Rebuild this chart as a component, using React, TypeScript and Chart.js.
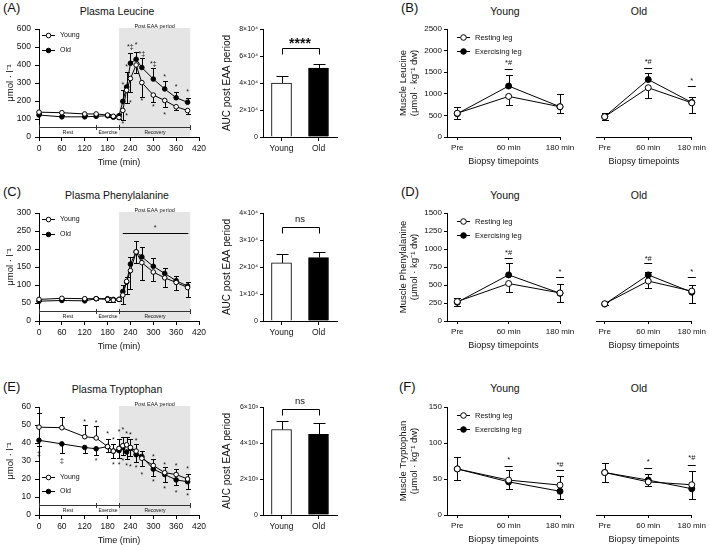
import React, { useEffect, useRef } from 'react';
import { Chart, registerables } from 'chart.js';

Chart.register(...registerables);

const FONT = '"Liberation Sans", Arial, Helvetica, sans-serif';
const INK = '#111111';
Chart.defaults.font.family = FONT;
Chart.defaults.color = INK;

// ---------------- Plasma time course (A, C, E) ----------------
const plasmaTimes = [0, 60, 120, 150, 180, 195, 210, 220, 230, 240, 255, 270, 300, 330, 360, 390];
const phaseBounds = [0, 150, 210, 397];
const phaseLabels = ['Rest', 'Exercise', 'Recovery'];

const leuYoung = [138, 135, 128, 128, 122, 115, 108, 148, 260, 325, 400, 302, 233, 203, 168, 147];
const leuYoungSD = [10, 10, 10, 8, 10, 12, 10, 53, 70, 75, 45, 82, 38, 38, 20, 18];
const leuOld = [122, 112, 112, 115, 118, 110, 118, 198, 278, 410, 432, 386, 322, 267, 218, 193];
const leuOldSD = [10, 10, 8, 8, 10, 10, 10, 64, 85, 58, 42, 55, 63, 44, 30, 25];
const leuMarks: [number, number, string][] = [
  [220, 293, '*'], [230, 398, '*'], [240, 505, '*‡'], [255, 515, '*'], [270, 465, '*‡'],
  [300, 413, '*‡'], [330, 339, '*'], [360, 283, '*'], [390, 255, '*'],
  [220, 80, '*'], [230, 122, '*'], [240, 196, '*'], [270, 205, '*'], [300, 172, '*'], [330, 130, '*'],
];

const pheYoung = [60, 63, 62, 62, 60, 58, 60, 72, 110, 140, 192, 162, 136, 120, 107, 93];
const pheYoungSD = [4, 4, 4, 5, 6, 6, 5, 25, 35, 50, 30, 49, 25, 25, 20, 25];
const pheOld = [55, 57, 56, 62, 62, 60, 60, 82, 108, 158, 192, 178, 152, 132, 112, 97];
const pheOldSD = [4, 4, 4, 5, 5, 5, 5, 18, 15, 20, 31, 27, 23, 15, 12, 10];
const pheSigLine: [number, number, number] = [220, 392, 244];
const pheMarks: [number, number, string][] = [[305, 262, '*']];

const trpYoung = [48.8, 48.5, 43.5, 42.8, 38, 35.5, 37, 38.5, 39, 37.5, 35.5, 31.5, 27.5, 23.5, 22.5, 20];
const trpYoungSD = [8, 6, 6.5, 6.5, 4.5, 4, 5, 5, 4.5, 4.5, 4, 4, 3.5, 3, 3, 3];
const trpOld = [41.5, 39.5, 37.5, 36.8, 38, 35.5, 35.8, 37.5, 35, 37, 33.5, 32.5, 25.5, 22.5, 19.5, 18.5];
const trpOldSD = [3, 5, 3, 3.5, 3, 4, 4, 4, 4, 4, 4, 5.5, 4, 4, 3, 4];
const trpMarks: [number, number, string][] = [
  [120, 52.6, '*'], [150, 51.7, '*'], [180, 45.6, '*'], [195, 42.5, '*'], [210, 47, '*'], [220, 48, '*'],
  [230, 45.8, '*'], [240, 45, '*'], [255, 41.8, '*'], [300, 33, '*'], [330, 28.5, '*'], [360, 28, '*'], [390, 26, '*'],
  [0, 34.5, '‡'], [60, 30.5, '‡'], [150, 30.5, '*'], [195, 28.2, '*'], [210, 28.2, '*'], [220, 30.5, '*'],
  [230, 27.7, '*'], [240, 27.1, '*'], [255, 26.8, '*'], [270, 23, '*'], [300, 19, '*'], [330, 15, '*'],
  [360, 13, '*'], [390, 11, '*'],
];

// ---------------- AUC bars ----------------
const barLabels = ['Young', 'Old'];
const aucLeu = [40000, 51000];
const aucLeuSD = [5500, 3000];
const aucPhe = [21500, 23500];
const aucPheSD = [3500, 2000];
const aucTrp = [4750, 4480];
const aucTrpSD = [450, 620];

// ---------------- Muscle (B, D, F) ----------------
const biopsyLabels = ['Pre', '60 min', '180 min'];

const mLeuYoungRest = [550, 940, 700];
const mLeuYoungRestUp = [0, 0, 0];
const mLeuYoungRestDn = [130, 200, 150];
const mLeuYoungEx = [540, 1180, 700];
const mLeuYoungExUp = [150, 260, 300];
const mLeuYoungExDn = [0, 0, 0];
const mLeuOldRest = [470, 1140, 790];
const mLeuOldRestUp = [0, 0, 0];
const mLeuOldRestDn = [80, 240, 230];
const mLeuOldEx = [470, 1330, 800];
const mLeuOldExUp = [80, 150, 130];
const mLeuOldExDn = [0, 0, 0];
const mLeuYoungSig: [number, number, number, string][] = [[1, 1746, 1577, '*#']];
const mLeuOldSig: [number, number, number, string][] = [[1, 1762, 1592, '*#'], [2, 1323, 1185, '*']];

const mPheYoungRest = [270, 520, 390];
const mPheYoungRestUp = [0, 0, 0];
const mPheYoungRestDn = [55, 120, 130];
const mPheYoungEx = [260, 640, 385];
const mPheYoungExUp = [60, 160, 135];
const mPheYoungExDn = [0, 0, 0];
const mPheOldRest = [240, 555, 415];
const mPheOldRestUp = [0, 0, 0];
const mPheOldRestDn = [20, 90, 165];
const mPheOldEx = [235, 640, 400];
const mPheOldExUp = [25, 40, 100];
const mPheOldExDn = [0, 0, 0];
const mPheYoungSig: [number, number, number, string][] = [[1, 967, 877, '*#'], [2, 706, 616, '*']];
const mPheOldSig: [number, number, number, string][] = [[1, 886, 810, '*#'], [2, 697, 607, '*']];

const mTrpYoungRest = [64, 48.5, 41.5];
const mTrpYoungRestUp = [16, 13.5, 13];
const mTrpYoungRestDn = [0, 0, 0];
const mTrpYoungEx = [64, 46, 33];
const mTrpYoungExUp = [0, 0, 0];
const mTrpYoungExDn = [15, 10, 11];
const mTrpOldRest = [59, 46, 42];
const mTrpOldRestUp = [13, 0, 19];
const mTrpOldRestDn = [0, 6, 0];
const mTrpOldEx = [59, 48.5, 36.5];
const mTrpOldExUp = [0, 8.5, 0];
const mTrpOldExDn = [13, 0, 14];
const mTrpYoungSig: [number, number, number, string][] = [[1, 77.7, 68.7, '*'], [2, 71.8, 62, '*#']];
const mTrpOldSig: [number, number, number, string][] = [[1, 75.5, 65.5, '*'], [2, 81, 70, '*#']];

// ---------------- helpers ----------------
type Rect = { x: number; y: number; w: number; h: number };
type Area = { l: number; r: number; t: number; b: number };
type Ann =
  | { kind: 'text'; x: number; y: number; text: string; size: number; bold?: boolean }
  | { kind: 'tick'; x: number; y: number; half: number }
  | { kind: 'line'; x1: number; x2: number; y: number }
  | { kind: 'bracket'; x1: number; x2: number; y: number; drop: number };
type ErrSet = { index: number; up: number[]; dn: number[] };

function frame(cv: Rect, ar: Area, hasY = true) {
  return {
    padding: { left: hasY ? 0 : ar.l - cv.x, right: cv.x + cv.w - ar.r, top: ar.t - cv.y, bottom: 0 },
    yW: ar.l - cv.x,
    xH: cv.y + cv.h - ar.b,
  };
}

function errPlugin(sets: ErrSet[], cap: number, after = false) {
  const draw = (chart: any) => {
    const ctx = chart.ctx;
    const ys = chart.scales.y;
    ctx.save();
    ctx.strokeStyle = '#000';
    ctx.lineWidth = 1;
    for (const s of sets) {
      const meta = chart.getDatasetMeta(s.index);
      const raw = chart.data.datasets[s.index].data;
      meta.data.forEach((el: any, i: number) => {
        const d = raw[i];
        const v = typeof d === 'number' ? d : d.y;
        const x = Math.round(el.x) + 0.5;
        const y0 = ys.getPixelForValue(v);
        const ends: number[] = [];
        if (s.up[i] > 0) ends.push(ys.getPixelForValue(v + s.up[i]));
        if (s.dn[i] > 0) ends.push(ys.getPixelForValue(v - s.dn[i]));
        for (const ye of ends) {
          const yy = Math.round(ye) + 0.5;
          ctx.beginPath();
          ctx.moveTo(x, y0);
          ctx.lineTo(x, yy);
          ctx.moveTo(x - cap, yy);
          ctx.lineTo(x + cap, yy);
          ctx.stroke();
        }
      });
    }
    ctx.restore();
  };
  return after ? { id: 'errA', afterDatasetsDraw: draw } : { id: 'errB', beforeDatasetsDraw: draw };
}

function annPlugin(anns: Ann[]) {
  return {
    id: 'ann',
    afterDatasetsDraw(chart: any) {
      const { ctx, scales } = chart;
      const px = (v: number) => scales.x.getPixelForValue(v);
      const py = (v: number) => scales.y.getPixelForValue(v);
      ctx.save();
      ctx.strokeStyle = '#000';
      ctx.lineWidth = 1;
      ctx.fillStyle = INK;
      for (const a of anns) {
        if (a.kind === 'text') {
          ctx.font = `${a.bold ? 'bold ' : ''}${a.size}px ${FONT}`;
          ctx.textAlign = 'center';
          ctx.textBaseline = 'middle';
          const off = /^[*#‡]+$/.test(a.text) ? a.size * 0.18 : 0;
          ctx.fillText(a.text, px(a.x), py(a.y) + off);
        } else if (a.kind === 'tick') {
          const y = Math.round(py(a.y)) + 0.5;
          ctx.beginPath();
          ctx.moveTo(px(a.x) - a.half, y);
          ctx.lineTo(px(a.x) + a.half, y);
          ctx.stroke();
        } else if (a.kind === 'line') {
          const y = Math.round(py(a.y)) + 0.5;
          ctx.beginPath();
          ctx.moveTo(px(a.x1), y);
          ctx.lineTo(px(a.x2), y);
          ctx.stroke();
        } else {
          const y = Math.round(py(a.y)) + 0.5;
          const x1 = Math.round(px(a.x1)) + 0.5;
          const x2 = Math.round(px(a.x2)) + 0.5;
          ctx.beginPath();
          ctx.moveTo(x1, y + a.drop);
          ctx.lineTo(x1, y);
          ctx.lineTo(x2, y);
          ctx.lineTo(x2, y + a.drop);
          ctx.stroke();
        }
      }
      ctx.restore();
    },
  };
}

function legendPlugin(items: { label: string; fill: string }[], dx: number, dys: number[], len: number, r: number, size: number, gap: number) {
  return {
    id: 'lg',
    afterDatasetsDraw(chart: any) {
      const { ctx, chartArea: a } = chart;
      ctx.save();
      items.forEach((it, i) => {
        const x0 = a.left + dx;
        const y = Math.round(a.top + dys[i]) + 0.5;
        ctx.strokeStyle = '#000';
        ctx.lineWidth = 1;
        ctx.beginPath();
        ctx.moveTo(x0, y);
        ctx.lineTo(x0 + len, y);
        ctx.stroke();
        ctx.beginPath();
        ctx.arc(x0 + len / 2, y, r, 0, Math.PI * 2);
        ctx.fillStyle = it.fill;
        ctx.fill();
        ctx.stroke();
        ctx.fillStyle = INK;
        ctx.font = `${size}px ${FONT}`;
        ctx.textAlign = 'left';
        ctx.textBaseline = 'middle';
        ctx.fillText(it.label, x0 + len + gap, y);
      });
      ctx.restore();
    },
  };
}

function decorPlugin() {
  return {
    id: 'decor',
    beforeDraw(chart: any) {
      const { ctx, chartArea: a, scales } = chart;
      const x1 = scales.x.getPixelForValue(phaseBounds[2]);
      const x2 = scales.x.getPixelForValue(phaseBounds[3]);
      ctx.save();
      ctx.fillStyle = '#e5e5e5';
      ctx.fillRect(x1, a.top - 1, x2 - x1, a.bottom - a.top + 0.5);
      ctx.fillStyle = INK;
      ctx.font = `5.5px ${FONT}`;
      ctx.textAlign = 'center';
      ctx.textBaseline = 'middle';
      ctx.fillText('Post EAA period', (x1 + x2) / 2, a.top - 3);
      ctx.restore();
    },
    beforeDatasetsDraw(chart: any) {
      const { ctx, chartArea: a, scales } = chart;
      const px = (v: number) => Math.round(scales.x.getPixelForValue(v)) + 0.5;
      const y = Math.round(a.bottom - 10) + 0.5;
      ctx.save();
      ctx.strokeStyle = '#333';
      ctx.lineWidth = 1;
      ctx.beginPath();
      ctx.moveTo(px(phaseBounds[0]), y);
      ctx.lineTo(px(phaseBounds[phaseBounds.length - 1]), y);
      for (const b of phaseBounds) {
        ctx.moveTo(px(b), y - 2.5);
        ctx.lineTo(px(b), y + 2.5);
      }
      ctx.stroke();
      ctx.fillStyle = INK;
      ctx.font = `5px ${FONT}`;
      ctx.textAlign = 'center';
      ctx.textBaseline = 'middle';
      phaseLabels.forEach((l, i) => {
        ctx.fillText(l, (px(phaseBounds[i]) + px(phaseBounds[i + 1])) / 2, y + 5.5);
      });
      ctx.restore();
    },
  };
}

function axis(size: number, tickLen: number, pad: number) {
  return {
    border: { display: true, color: '#000', width: 1 },
    grid: { display: true, drawOnChartArea: false, drawTicks: true, tickLength: tickLen, color: '#000', lineWidth: 1 },
    ticks: { color: INK, font: { family: FONT, size }, padding: pad, maxRotation: 0, autoSkip: false },
  };
}

const baseOptions = {
  responsive: false,
  animation: false,
  events: [],
};

function lineDataset(label: string, pts: { x: number; y: number }[], fill: string, r: number) {
  return {
    label,
    data: pts,
    borderColor: '#000',
    borderWidth: 1,
    pointRadius: r,
    pointHoverRadius: r,
    pointBackgroundColor: fill,
    pointBorderColor: '#000',
    pointBorderWidth: 1,
    fill: false,
    tension: 0,
    clip: false,
  };
}

// ---------------- chart builders ----------------
function plasmaChart(ro: number, yMax: number, yStep: number, young: number[], youngSD: number[], old: number[], oldSD: number[], youngUp: boolean, anns: Ann[], legendDys: number[]) {
  const cv = { x: 0, y: ro + 14, w: 212, h: 160 };
  const ar = { l: 39, r: 199, t: ro + 29, b: ro + 137 };
  const f = frame(cv, ar);
  const zeros = young.map(() => 0);
  const sets: ErrSet[] = [
    { index: 0, up: youngUp ? youngSD : zeros, dn: youngUp ? zeros : youngSD },
    { index: 1, up: youngUp ? zeros : oldSD, dn: youngUp ? oldSD : zeros },
  ];
  const ax = axis(8.5, 4, 3);
  const ay = axis(8.5, 4, 4);
  const cfg = {
    type: 'line',
    data: {
      datasets: [
        lineDataset('Young', plasmaTimes.map((t, i) => ({ x: t, y: young[i] })), '#fff', 2.3),
        lineDataset('Old', plasmaTimes.map((t, i) => ({ x: t, y: old[i] })), '#000', 2.3),
      ],
    },
    options: {
      ...baseOptions,
      layout: { padding: f.padding },
      plugins: { legend: { display: false }, tooltip: { enabled: false } },
      scales: {
        x: {
          ...ax,
          type: 'linear',
          min: 0,
          max: 420,
          ticks: { ...ax.ticks, stepSize: 60 },
          title: { display: true, text: 'Time (min)', color: INK, font: { family: FONT, size: 9 }, padding: { top: 0, bottom: 5.6 } },
          afterFit: (s: any) => { s.height = f.xH; },
        },
        y: {
          ...ay,
          type: 'linear',
          min: 0,
          max: yMax,
          ticks: { ...ay.ticks, stepSize: yStep, callback: (v: number) => String(v) },
          title: { display: true, text: 'μmol · l⁻¹', color: INK, font: { family: FONT, size: 9.5 }, padding: { top: 4.3, bottom: 0 } },
          afterFit: (s: any) => { s.width = f.yW; },
        },
      },
    },
    plugins: [
      decorPlugin(),
      errPlugin(sets, 2.5),
      annPlugin(anns),
      legendPlugin([{ label: 'Young', fill: '#fff' }, { label: 'Old', fill: '#000' }], 3, legendDys, 13, 2.3, 7, 5),
    ],
  };
  return { cv, cfg };
}

function barChart(ro: number, vals: number[], sd: number[], yMax: number, yStep: number, base: number, sup: string, bracketY: number, sigText: string, sigY: number, sigSize: number, bold: boolean) {
  const cv = { x: 212, y: ro + 14, w: 150, h: 160 };
  const ar = { l: 263, r: 337, t: ro + 29, b: ro + 137 };
  const f = frame(cv, ar);
  const ax = axis(8.5, 4, 3);
  const ay = axis(7, 3, 2);
  const cfg = {
    type: 'bar',
    data: {
      labels: barLabels,
      datasets: [
        {
          data: vals,
          backgroundColor: ['#ffffff', '#000000'],
          borderColor: '#000',
          borderWidth: 1,
          barThickness: 20,
          borderSkipped: 'start',
        },
      ],
    },
    options: {
      ...baseOptions,
      layout: { padding: f.padding },
      plugins: { legend: { display: false }, tooltip: { enabled: false } },
      scales: {
        x: {
          ...ax,
          type: 'category',
          offset: true,
          grid: { ...ax.grid, offset: false },
          afterFit: (s: any) => { s.height = f.xH; },
        },
        y: {
          ...ay,
          type: 'linear',
          min: 0,
          max: yMax,
          ticks: { ...ay.ticks, stepSize: yStep, callback: (v: number) => (v === 0 ? '0' : `${Math.round(v / base)}×10${sup}`) },
          title: { display: true, text: 'AUC post EAA period', color: INK, font: { family: FONT, size: 10 }, padding: { top: 9, bottom: 0 } },
          afterFit: (s: any) => { s.width = f.yW; },
        },
      },
    },
    plugins: [
      errPlugin([{ index: 0, up: sd, dn: [0, 0] }], 6, true),
      annPlugin([
        { kind: 'bracket', x1: 0, x2: 1, y: bracketY, drop: 6 },
        { kind: 'text', x: 0.5, y: sigY, text: sigText, size: sigSize, bold },
      ]),
    ],
  };
  return { cv, cfg };
}

function muscleChart(ro: number, isYoung: boolean, yMax: number, yStep: number, yTitle: string[], rest: number[], restUp: number[], restDn: number[], ex: number[], exUp: number[], exDn: number[], sig: [number, number, number, string][]) {
  const cv = isYoung ? { x: 393, y: ro + 14, w: 185, h: 160 } : { x: 578, y: ro + 14, w: 131, h: 160 };
  const ar = isYoung ? { l: 447, r: 560, t: ro + 29, b: ro + 137 } : { l: 587, r: 694, t: ro + 29, b: ro + 137 };
  const f = frame(cv, ar, isYoung);
  const ax = axis(8, 3, 3);
  const ay = axis(8, 3, 2);
  const anns: Ann[] = [];
  for (const [x, ty, ly, t] of sig) {
    anns.push({ kind: 'text', x, y: ty, text: t, size: 7.5 });
    anns.push({ kind: 'tick', x, y: ly, half: 4 });
  }
  const plugins: any[] = [
    errPlugin([{ index: 0, up: restUp, dn: restDn }, { index: 1, up: exUp, dn: exDn }], 3.5),
    annPlugin(anns),
  ];
  if (isYoung) {
    plugins.push(legendPlugin([{ label: 'Resting leg', fill: '#fff' }, { label: 'Exercising leg', fill: '#000' }], 10, [8, 22], 13, 2.8, 7.5, 5));
  }
  const cfg = {
    type: 'line',
    data: {
      datasets: [
        lineDataset('Resting leg', rest.map((v, i) => ({ x: i, y: v })), '#fff', 3),
        lineDataset('Exercising leg', ex.map((v, i) => ({ x: i, y: v })), '#000', 3),
      ],
    },
    options: {
      ...baseOptions,
      layout: { padding: f.padding },
      plugins: { legend: { display: false }, tooltip: { enabled: false } },
      scales: {
        x: {
          ...ax,
          type: 'linear',
          min: -0.2,
          max: 2,
          afterBuildTicks: (s: any) => { s.ticks = [0, 1, 2].map((v) => ({ value: v })); },
          ticks: { ...ax.ticks, callback: (v: number) => biopsyLabels[v] ?? '' },
          title: { display: true, text: 'Biopsy timepoints', color: INK, font: { family: FONT, size: 9 }, padding: { top: 0, bottom: 6.6 } },
          afterFit: (s: any) => { s.height = f.xH; },
        },
        y: {
          ...ay,
          display: isYoung,
          type: 'linear',
          min: 0,
          max: yMax,
          ticks: { ...ay.ticks, stepSize: yStep, callback: (v: number) => String(v) },
          title: { display: true, text: yTitle, color: INK, font: { family: FONT, size: 9.5 }, padding: { top: 4.3, bottom: 0 } },
          afterFit: (s: any) => { s.width = f.yW; },
        },
      },
    },
    plugins,
  };
  return { cv, cfg };
}

function marksToAnns(marks: [number, number, string][], size: number): Ann[] {
  return marks.map(([x, y, t]) => ({ kind: 'text', x, y, text: t, size }) as Ann);
}

// ---------------- components ----------------
function ChartBox({ spec }: { spec: { cv: Rect; cfg: any } }) {
  const ref = useRef<HTMLCanvasElement>(null);
  useEffect(() => {
    const c = ref.current;
    if (!c) return;
    const chart = new Chart(c, spec.cfg);
    return () => chart.destroy();
  }, []);
  const { cv } = spec;
  return (
    <canvas
      ref={ref}
      width={cv.w}
      height={cv.h}
      style={{ position: 'absolute', left: cv.x, top: cv.y, width: cv.w, height: cv.h }}
    />
  );
}

type Label = { text: string; x: number; cy: number; size: number; center?: boolean };
const LABELS: Label[] = [
  { text: '(A)', x: 3, cy: 8, size: 13 },
  { text: 'Plasma Leucine', x: 117, cy: 11, size: 10.5, center: true },
  { text: '(B)', x: 401, cy: 8, size: 13 },
  { text: 'Young', x: 505, cy: 11, size: 10.5, center: true },
  { text: 'Old', x: 639, cy: 11, size: 10.5, center: true },
  { text: '(C)', x: 3, cy: 192, size: 13 },
  { text: 'Plasma Phenylalanine', x: 117, cy: 195, size: 10.5, center: true },
  { text: '(D)', x: 401, cy: 192, size: 13 },
  { text: 'Young', x: 505, cy: 195, size: 10.5, center: true },
  { text: 'Old', x: 639, cy: 195, size: 10.5, center: true },
  { text: '(E)', x: 3, cy: 387, size: 13 },
  { text: 'Plasma Tryptophan', x: 117, cy: 389, size: 10.5, center: true },
  { text: '(F)', x: 399, cy: 387, size: 13 },
  { text: 'Young', x: 505, cy: 388, size: 10.5, center: true },
  { text: 'Old', x: 639, cy: 388, size: 10.5, center: true },
];

const SPECS = [
  plasmaChart(0, 600, 100, leuYoung, leuYoungSD, leuOld, leuOldSD, false, marksToAnns(leuMarks, 7), [6, 21]),
  barChart(0, aucLeu, aucLeuSD, 80000, 20000, 10000, '⁴', 66000, '****', 70800, 14, true),
  muscleChart(0, true, 2500, 500, ['Muscle Leucine', '(μmol · kg⁻¹ dw)'], mLeuYoungRest, mLeuYoungRestUp, mLeuYoungRestDn, mLeuYoungEx, mLeuYoungExUp, mLeuYoungExDn, mLeuYoungSig),
  muscleChart(0, false, 2500, 500, ['Muscle Leucine', '(μmol · kg⁻¹ dw)'], mLeuOldRest, mLeuOldRestUp, mLeuOldRestDn, mLeuOldEx, mLeuOldExUp, mLeuOldExDn, mLeuOldSig),

  plasmaChart(184, 300, 50, pheYoung, pheYoungSD, pheOld, pheOldSD, false,
    [{ kind: 'line', x1: pheSigLine[0], x2: pheSigLine[1], y: pheSigLine[2] }, ...marksToAnns(pheMarks, 7)], [6, 21]),
  barChart(184, aucPhe, aucPheSD, 40000, 10000, 10000, '⁴', 34700, 'ns', 37600, 9.5, false),
  muscleChart(184, true, 1500, 250, ['Muscle Phenylalanine', '(μmol · kg⁻¹ dw)'], mPheYoungRest, mPheYoungRestUp, mPheYoungRestDn, mPheYoungEx, mPheYoungExUp, mPheYoungExDn, mPheYoungSig),
  muscleChart(184, false, 1500, 250, ['Muscle Phenylalanine', '(μmol · kg⁻¹ dw)'], mPheOldRest, mPheOldRestUp, mPheOldRestDn, mPheOldEx, mPheOldExUp, mPheOldExDn, mPheOldSig),

  plasmaChart(378, 60, 10, trpYoung, trpYoungSD, trpOld, trpOldSD, true, marksToAnns(trpMarks, 7), [70, 84]),
  barChart(378, aucTrp, aucTrpSD, 6000, 2000, 1000, '³', 5870, 'ns', 6300, 9.5, false),
  muscleChart(378, true, 150, 50, ['Muscle Tryptophan', '(μmol · kg⁻¹ dw)'], mTrpYoungRest, mTrpYoungRestUp, mTrpYoungRestDn, mTrpYoungEx, mTrpYoungExUp, mTrpYoungExDn, mTrpYoungSig),
  muscleChart(378, false, 150, 50, ['Muscle Tryptophan', '(μmol · kg⁻¹ dw)'], mTrpOldRest, mTrpOldRestUp, mTrpOldRestDn, mTrpOldEx, mTrpOldExUp, mTrpOldExDn, mTrpOldSig),
];

export default function App() {
  return (
    <div
      style={{
        position: 'absolute',
        left: 0,
        top: 0,
        width: 709,
        height: 545,
        background: '#ffffff',
        overflow: 'hidden',
        fontFamily: FONT,
        color: INK,
      }}
    >
      {LABELS.map((l, i) => (
        <div
          key={i}
          style={{
            position: 'absolute',
            left: l.center ? l.x - 100 : l.x,
            width: l.center ? 200 : undefined,
            top: l.cy - l.size * 0.6,
            fontSize: l.size,
            lineHeight: `${l.size * 1.2}px`,
            textAlign: l.center ? 'center' : 'left',
            whiteSpace: 'nowrap',
          }}
        >
          {l.text}
        </div>
      ))}
      {SPECS.map((s, i) => (
        <ChartBox key={i} spec={s} />
      ))}
    </div>
  );
}
